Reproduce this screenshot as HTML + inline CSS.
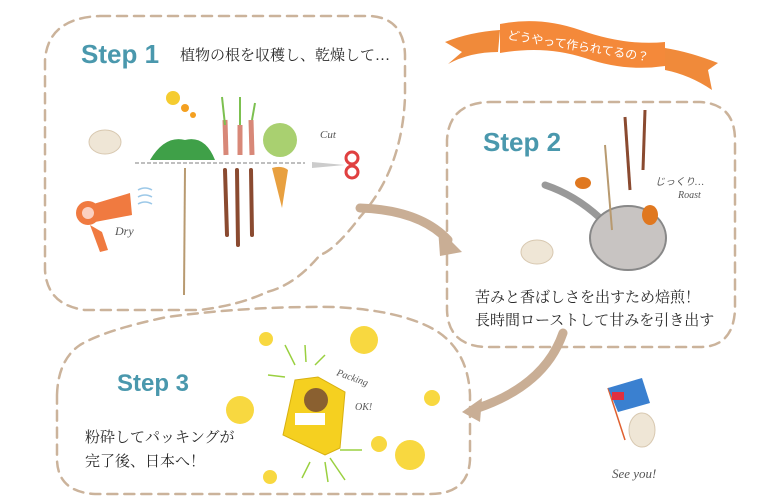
<!DOCTYPE html>
<html><head><meta charset="utf-8"><style>
html,body{margin:0;padding:0;background:#fff;}
svg{display:block;}
.jp{font-family:"Liberation Serif","Noto Serif CJK SC","Noto Sans CJK JP",serif;fill:#2a2a2a;}
.st{font-family:"Liberation Sans",sans-serif;font-weight:bold;fill:#4a98ad;}
.hw{font-family:"Liberation Serif",serif;font-style:italic;fill:#555;}
</style></head><body>
<svg width="780" height="500" viewBox="0 0 780 500" xmlns="http://www.w3.org/2000/svg">
<g fill="none" stroke="#cbb39b" stroke-width="2.5" stroke-dasharray="10 7" stroke-linecap="round">
<path d="M100,16 L370,16 Q404,18 405,55 L405,97 Q402,170 360,217 Q335,250 320,255 Q295,285 267,292 Q240,305 200,310 L85,310 Q47,305 45,270 L45,60 Q48,18 100,16 Z"/>
<path d="M490,102 L700,102 Q735,104 735,140 L735,310 Q733,347 700,347 L485,347 Q448,345 447,310 L447,140 Q449,103 490,102 Z"/>
<path d="M57,395 Q58,360 80,345 Q105,330 167,317 Q250,306 333,307 Q400,310 435,330 Q468,350 470,395 L470,460 Q468,494 430,494 L95,494 Q58,492 57,460 Z"/>
</g>
<!-- arrows -->
<g fill="none" stroke="#c9ae95" stroke-width="9" stroke-linecap="round">
<path d="M360,208 Q420,210 448,240"/>
<path d="M563,333 Q545,385 478,408"/>
</g>
<path d="M438,228 L462,252 L440,256 Z" fill="#c9ae95"/>
<path d="M482,398 L462,412 L480,422 Z" fill="#c9ae95"/>
<!-- banner -->
<path d="M445,42 Q470,32 500,30 L498,52 Q470,52 448,64 L462,52 Z" fill="#f08a3a"/>
<path d="M665,48 Q690,52 718,63 L708,70 L712,90 Q690,75 665,70 Z" fill="#f08a3a"/>
<path d="M500,24 Q540,16 580,30 Q625,46 665,42 L665,66 Q625,72 585,58 Q545,45 500,53 Z" fill="#f4893a"/>
<text x="507" y="39" font-size="12" fill="#fff" font-family="Liberation Sans,'Noto Sans CJK JP',sans-serif" transform="rotate(9 507 39)">どうやって作られてるの？</text>
<!-- step labels -->
<text class="st" x="81" y="63" font-size="26">Step 1</text>
<text class="st" x="483" y="151" font-size="26">Step 2</text>
<text class="st" x="117" y="391" font-size="24">Step 3</text>
<text class="jp" x="180" y="60" font-size="15">植物の根を収穫し、乾燥して…</text>
<text class="jp" x="475" y="302" font-size="15">苦みと香ばしさを出すため焙煎！</text>
<text class="jp" x="475" y="325" font-size="15">長時間ローストして甘みを引き出す</text>
<text class="jp" x="85" y="442" font-size="15">粉砕してパッキングが</text>
<text class="jp" x="85" y="466" font-size="15">完了後、日本へ！</text>
<!-- step1 illustration -->
<ellipse cx="105" cy="142" rx="16" ry="12" fill="#efe6d6" stroke="#d8c8b0"/>
<line x1="135" y1="163" x2="305" y2="163" stroke="#aaa" stroke-width="1.5" stroke-dasharray="4 2"/>
<circle cx="173" cy="98" r="7" fill="#f5cc30"/>
<circle cx="185" cy="108" r="4" fill="#f4a020"/><circle cx="193" cy="115" r="3" fill="#f4a020"/>
<path d="M150,160 Q165,135 185,140 Q205,135 215,160 Z" fill="#3fa048"/>
<g stroke="#8a4a30" stroke-width="4" stroke-linecap="round">
<line x1="225" y1="170" x2="227" y2="235"/><line x1="237" y1="170" x2="238" y2="245"/><line x1="251" y1="170" x2="252" y2="235"/>
</g>
<g stroke="#d88878" stroke-width="5"><line x1="225" y1="120" x2="226" y2="155"/><line x1="240" y1="125" x2="240" y2="155"/><line x1="251" y1="120" x2="252" y2="155"/></g>
<g stroke="#7cc050" stroke-width="2"><line x1="222" y1="97" x2="225" y2="125"/><line x1="240" y1="97" x2="240" y2="125"/><line x1="255" y1="103" x2="252" y2="120"/></g>
<ellipse cx="280" cy="140" rx="17" ry="17" fill="#a9d070"/>
<path d="M272,168 Q282,165 288,170 L282,208 Z" fill="#e8a040"/>
<line x1="185" y1="168" x2="184" y2="295" stroke="#b89a70" stroke-width="2"/>
<circle cx="352" cy="158" r="6" fill="none" stroke="#e04040" stroke-width="3"/>
<circle cx="352" cy="172" r="6" fill="none" stroke="#e04040" stroke-width="3"/>
<path d="M312,162 L345,165 L312,168 Z" fill="#ccc"/>
<text class="hw" x="320" y="138" font-size="11">Cut</text>
<path d="M90,205 L130,193 L132,215 L95,222 Z" fill="#f07a40"/>
<circle cx="88" cy="213" r="12" fill="#f07a40"/><circle cx="88" cy="213" r="6" fill="#fbd0c0"/>
<path d="M90,225 L102,232 L108,250 L100,252 Z" fill="#f07a40"/>
<g stroke="#9cc8e8" stroke-width="1.5" fill="none"><path d="M138,190 Q145,186 152,190"/><path d="M138,197 Q145,193 152,197"/><path d="M138,204 Q145,200 152,204"/></g>
<text class="hw" x="115" y="235" font-size="12">Dry</text>
<!-- step2 illustration -->
<path d="M545,185 Q575,195 600,218" stroke="#999" stroke-width="7" fill="none" stroke-linecap="round"/>
<ellipse cx="628" cy="238" rx="38" ry="32" fill="#c8c4c2" stroke="#888" stroke-width="2"/>
<g stroke="#8a4a30" stroke-width="3"><line x1="625" y1="117" x2="630" y2="190"/><line x1="645" y1="110" x2="643" y2="170"/></g>
<line x1="605" y1="145" x2="612" y2="230" stroke="#b89a70" stroke-width="2"/>
<ellipse cx="583" cy="183" rx="8" ry="6" fill="#e07820"/>
<ellipse cx="650" cy="215" rx="8" ry="10" fill="#e07820"/>
<ellipse cx="537" cy="252" rx="16" ry="12" fill="#efe6d6" stroke="#d8c8b0"/>
<text class="hw" x="655" y="185" font-size="10">じっくり…</text>
<text class="hw" x="678" y="198" font-size="10">Roast</text>
<!-- step3 illustration -->
<path d="M295,380 L318,377 L345,392 L340,448 L325,455 L283,435 Z" fill="#f5d020" stroke="#d8b010"/>
<circle cx="316" cy="400" r="12" fill="#8a6030"/>
<rect x="295" y="413" width="30" height="12" fill="#fff"/>
<g fill="#f8d840">
<circle cx="266" cy="339" r="7"/><circle cx="364" cy="340" r="14"/><circle cx="240" cy="410" r="14"/><circle cx="432" cy="398" r="8"/>
<circle cx="379" cy="444" r="8"/><circle cx="410" cy="455" r="15"/><circle cx="270" cy="477" r="7"/>
</g>
<g stroke="#9ad040" stroke-width="1.5"><line x1="285" y1="345" x2="295" y2="365"/><line x1="305" y1="345" x2="306" y2="362"/><line x1="325" y1="355" x2="315" y2="365"/><line x1="268" y1="375" x2="285" y2="377"/><line x1="340" y1="450" x2="362" y2="450"/><line x1="310" y1="462" x2="302" y2="478"/><line x1="325" y1="462" x2="328" y2="482"/><line x1="330" y1="458" x2="345" y2="480"/></g>
<text class="hw" x="336" y="375" font-size="10" transform="rotate(20 336 375)">Packing</text>
<text class="hw" x="355" y="410" font-size="10">OK!</text>
<line x1="608" y1="388" x2="625" y2="440" stroke="#e06030" stroke-width="1.5"/>
<path d="M608,388 L642,378 L650,403 L618,412 Z" fill="#3a80d0"/>
<rect x="612" y="392" width="12" height="8" fill="#e03040"/>
<ellipse cx="642" cy="430" rx="13" ry="17" fill="#efe6d6" stroke="#d8c8b0"/>
<text class="hw" x="612" y="478" font-size="13" fill="#333">See you!</text>
</svg>
</body></html>
